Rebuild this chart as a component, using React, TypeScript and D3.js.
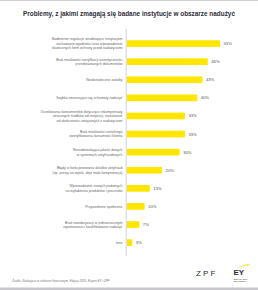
import React from 'react';
import * as d3 from 'd3';

const categories = [
  ['Nadmierne regulacje utrudniające instytucjom', 'zachowanie zgodności oraz wprowadzenie', 'skutecznych form ochrony przed nadużyciami'],
  ['Brak możliwości weryfikacji autentyczności', 'przedstawianych dokumentów'],
  ['Niedostateczne zasoby'],
  ['Szybko zmieniające się schematy nadużyć'],
  ['Oczekiwania konsumentów dotyczące rekompensaty', 'utraconych środków od instytucji, niezależnie', 'od okoliczności związanych z nadużyciami'],
  ['Brak możliwości rzetelnego', 'zweryfikowania tożsamości klienta'],
  ['Niezadowalająca jakość danych', 'w systemach antyfraudowych'],
  ['Błędy w funkcjonowaniu działów antyfraud', '(np. presja na wynik, zbyt mała kompetencja)'],
  ['Wprowadzanie nowych podatnych', 'na wyłudzenia produktów i procesów'],
  ['Przyzwolenie społeczne'],
  ['Brak standaryzacji w jednoznacznym', 'raportowaniu i kwalifikowaniu nadużyć'],
  ['Inne'],
];
const values = [53, 46, 43, 40, 33, 33, 30, 20, 13, 10, 7, 3];
const title = 'Problemy, z jakimi zmagają się badane instytucje w obszarze nadużyć';
const source = 'Źródło: Nadużycia w sektorze finansowym. Edycja 2025, Raport EY i ZPF';

const W = 258;
const H = 290;
const YELLOW = '#ffe600';
const font = 'Arial, "Liberation Sans", sans-serif';

export default function App() {
  const ids = values.map((_, i) => String(i));
  const y = d3.scaleBand().domain(ids).range([28.8, 257.4]).padding(0.63);
  const x = d3.scaleLinear().domain([0, 53]).range([127, 220]);
  const lh = 4.4;

  return (
    <svg width={W} height={H} style={{ position: 'absolute', left: 0, top: 0, background: '#fff' }} fontFamily={font}>
      <rect x={0} y={0} width={W} height={1} fill="#d0d0d4" />
      <rect x={0} y={287.5} width={W} height={2.5} fill="#c8c8cc" />
      <text x={129} y={16} textAnchor="middle" fontSize={6.4} fontWeight={600} fill="#2e2e38">{title}</text>

      <line x1={126.2} x2={126.2} y1={29} y2={256} stroke="#c8c8cc" strokeWidth={0.8} />

      {values.map((v, i) => {
        const yc = y(ids[i])! + y.bandwidth() / 2;
        const lines = categories[i];
        const y0 = yc - ((lines.length - 1) * lh) / 2;
        return (
          <g key={i}>
            <rect x={x(0)} y={y(ids[i])} width={x(v) - x(0)} height={y.bandwidth()} fill={YELLOW} />
            <text x={x(v) + 3.5} y={yc} dy="0.35em" fontSize={4.2} fill="#555">{v}%</text>
            {lines.map((l, j) => (
              <text key={j} x={122.5} y={y0 + j * lh} dy="0.35em" textAnchor="end" fontSize={3.5} fill="#666">{l}</text>
            ))}
          </g>
        );
      })}

      <text x={12} y={281.5} fontSize={3} fill="#777" fontStyle="italic">{source}</text>

      <g fill="#2e2e38" fontWeight={400}>
        <text x={196} y={276} fontSize={8} letterSpacing={2.2}>ZPF</text>
      </g>
      <g>
        <path d="M236 268 L249 263.5 L249 265 Z" fill={YELLOW} />
        <text x={233.5} y={275} fontSize={8} fontWeight={700} fill="#2e2e38">EY</text>
        <text x={233.5} y={279.5} fontSize={1.9} fill="#2e2e38">Shape the future</text>
        <text x={233.5} y={282} fontSize={1.9} fill="#2e2e38">with confidence</text>
      </g>
    </svg>
  );
}
